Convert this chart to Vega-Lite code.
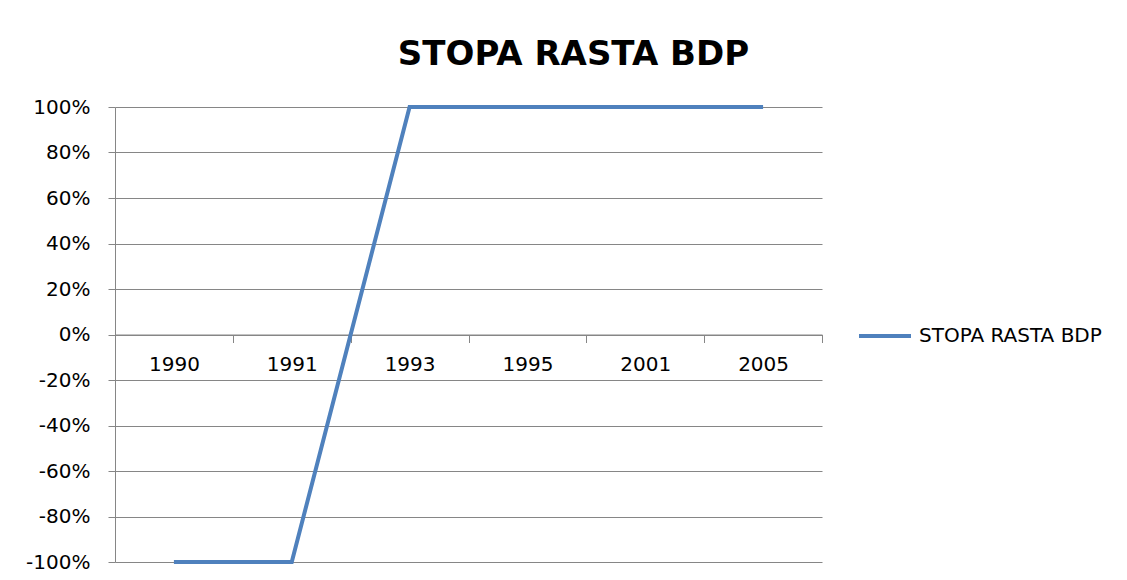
{
  "$schema": "https://vega.github.io/schema/vega-lite/v6.json",
  "width": 707,
  "height": 455,
  "autosize": "none",
  "padding": {"left": 115, "top": 107, "right": 305, "bottom": 18},
  "background": "white",
  "config": {"view": {"stroke": null}, "font": "DejaVu Sans"},
  "title": {
    "text": "STOPA RASTA BDP",
    "font": "DejaVu Sans",
    "fontSize": 34,
    "fontWeight": "bold",
    "color": "black",
    "anchor": "middle",
    "dx": 105,
    "offset": 25
  },
  "data": {
    "values": [
      {"year": "1990", "value": -1},
      {"year": "1991", "value": -1},
      {"year": "1993", "value": 1},
      {"year": "1995", "value": 1},
      {"year": "2001", "value": 1},
      {"year": "2005", "value": 1}
    ]
  },
  "mark": {"type": "line", "strokeWidth": 4},
  "encoding": {
    "x": {
      "field": "year",
      "type": "ordinal",
      "sort": null,
      "bandPosition": 0.5,
      "scale": {"type": "band", "paddingInner": 0, "paddingOuter": 0},
      "axis": {
        "title": null,
        "orient": "bottom",
        "offset": -227.5,
        "labelAngle": 0,
        "labelFont": "DejaVu Sans",
        "labelFontSize": 20,
        "labelColor": "black",
        "labelPadding": 12,
        "domainColor": "#868686",
        "tickColor": "#868686",
        "tickBand": "extent",
        "tickSize": 8,
        "grid": false
      }
    },
    "y": {
      "field": "value",
      "type": "quantitative",
      "scale": {"domain": [-1, 1], "nice": false},
      "axis": {
        "title": null,
        "values": [-1, -0.8, -0.6, -0.4, -0.2, 0, 0.2, 0.4, 0.6, 0.8, 1],
        "labelExpr": "round(datum.value*100) + '%'",
        "labelFont": "DejaVu Sans",
        "labelFontSize": 20,
        "labelColor": "black",
        "labelPadding": 18,
        "tickSize": 7,
        "tickColor": "#868686",
        "domainColor": "#868686",
        "grid": true,
        "gridColor": "#868686",
        "gridOpacity": 1
      }
    },
    "color": {
      "datum": "STOPA RASTA BDP",
      "scale": {"range": ["#4F81BD"]},
      "legend": {
        "title": null,
        "orient": "none",
        "legendX": 742,
        "legendY": 201,
        "symbolType": "stroke",
        "symbolSize": 2704,
        "symbolStrokeWidth": 4,
        "labelFont": "DejaVu Sans",
        "labelFontSize": 20,
        "labelColor": "black",
        "labelOffset": 6,
        "labelLimit": 400
      }
    }
  }
}
